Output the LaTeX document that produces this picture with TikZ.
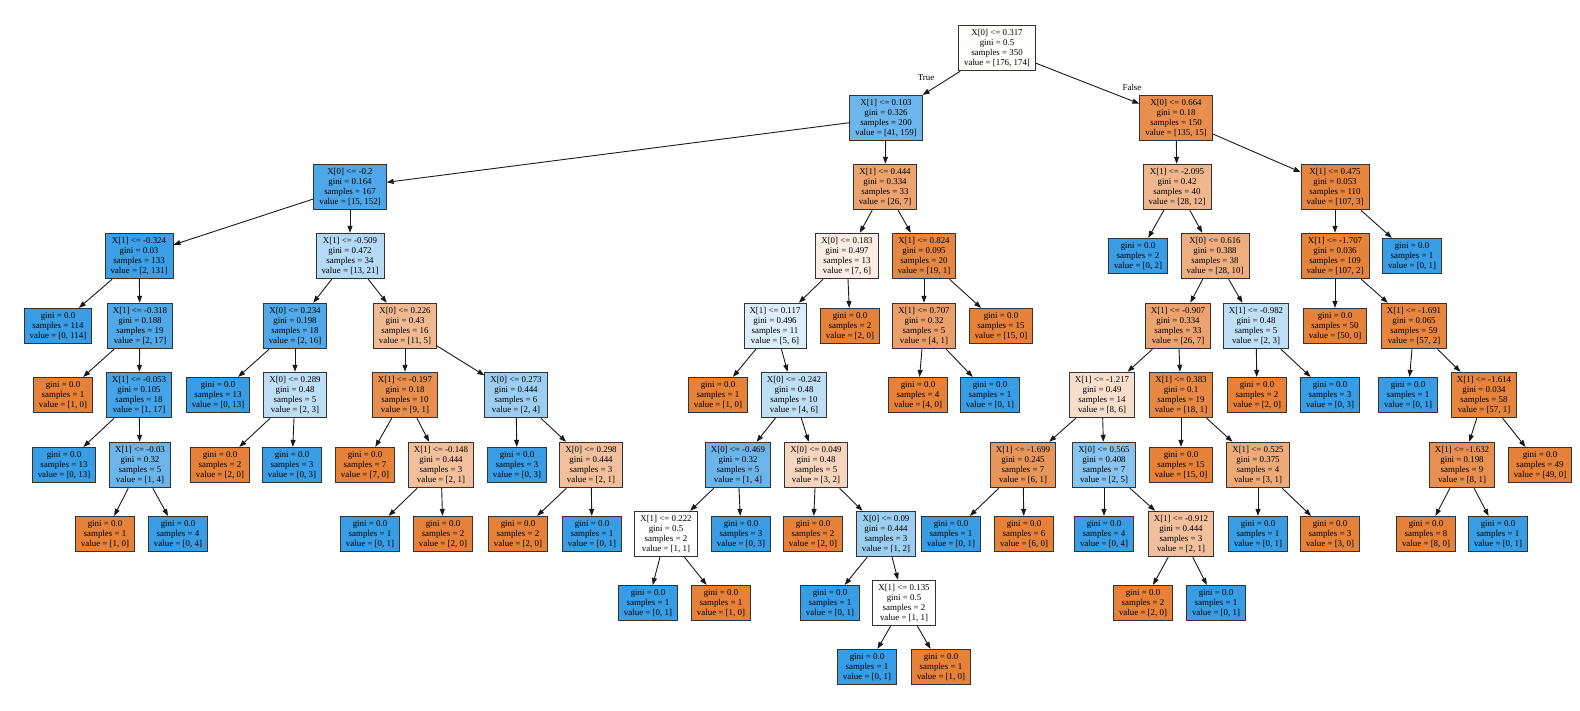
\documentclass[tikz,border=0pt]{standalone}
\usepackage{fontspec}
\setmainfont{Liberation Serif}
\usetikzlibrary{arrows.meta}
\definecolor{orng}{RGB}{229,129,57}
\definecolor{blu}{RGB}{57,157,229}

\begin{document}
\begin{tikzpicture}[x=1pt, y=-1pt]
	\tikzstyle{splitbox} = [rectangle, draw=black!80, line width=0.9pt, align=center, font=\fontsize{8.9}{10}\selectfont, inner xsep=5.5pt, inner ysep=4pt]
	\tikzstyle{leafbox} = [splitbox]
	\tikzstyle{branch} = [-{Triangle[length=7pt, width=5pt]}, line width=0.9pt, black!90]
	\tikzstyle{edgelab} = [font=\fontsize{8.9}{10}\selectfont, inner sep=0pt]
	\useasboundingbox (0,0) rectangle (1580,710);

	% rank 0
	\node[splitbox, fill=orng!1] at (997,48) (root) {X[0] <= 0.317\\gini = 0.5\\samples = 350\\value = [176, 174]};

	% rank 1
	\node[splitbox, fill=blu!74] at (886,118) (nL) {X[1] <= 0.103\\gini = 0.326\\samples = 200\\value = [41, 159]};
	\node[splitbox, fill=orng!89] at (1176,118) (nR) {X[0] <= 0.664\\gini = 0.18\\samples = 150\\value = [135, 15]};

	% rank 2
	\node[splitbox, fill=blu!90] at (350,187) (nLL) {X[0] <= -0.2\\gini = 0.164\\samples = 167\\value = [15, 152]};
	\node[splitbox, fill=orng!73] at (885,187) (nLR) {X[1] <= 0.444\\gini = 0.334\\samples = 33\\value = [26, 7]};
	\node[splitbox, fill=orng!57] at (1177,187) (nRL) {X[1] <= -2.095\\gini = 0.42\\samples = 40\\value = [28, 12]};
	\node[splitbox, fill=orng!97] at (1335,187) (nRR) {X[1] <= 0.475\\gini = 0.053\\samples = 110\\value = [107, 3]};

	% rank 3
	\node[splitbox, fill=blu!98] at (139,256) (nLLL) {X[1] <= -0.324\\gini = 0.03\\samples = 133\\value = [2, 131]};
	\node[splitbox, fill=blu!38] at (350,256) (nLLR) {X[1] <= -0.509\\gini = 0.472\\samples = 34\\value = [13, 21]};
	\node[splitbox, fill=orng!14] at (847,256) (nLRL) {X[0] <= 0.183\\gini = 0.497\\samples = 13\\value = [7, 6]};
	\node[splitbox, fill=orng!95] at (924,256) (nLRR) {X[1] <= 0.824\\gini = 0.095\\samples = 20\\value = [19, 1]};
	\node[leafbox, fill=blu] at (1138,256) (nRLL) {gini = 0.0\\samples = 2\\value = [0, 2]};
	\node[splitbox, fill=orng!64] at (1215,256) (nRLR) {X[0] <= 0.616\\gini = 0.388\\samples = 38\\value = [28, 10]};
	\node[splitbox, fill=orng!98] at (1335,256) (nRRL) {X[1] <= -1.707\\gini = 0.036\\samples = 109\\value = [107, 2]};
	\node[leafbox, fill=blu] at (1412,256) (nRRR) {gini = 0.0\\samples = 1\\value = [0, 1]};

	% rank 4
	\node[leafbox, fill=blu] at (58,326) (nLLLL) {gini = 0.0\\samples = 114\\value = [0, 114]};
	\node[splitbox, fill=blu!88] at (140,326) (nLLLR) {X[1] <= -0.318\\gini = 0.188\\samples = 19\\value = [2, 17]};
	\node[splitbox, fill=blu!88] at (295,326) (nLLRL) {X[0] <= 0.234\\gini = 0.198\\samples = 18\\value = [2, 16]};
	\node[splitbox, fill=orng!55] at (405,326) (nLLRR) {X[0] <= 0.226\\gini = 0.43\\samples = 16\\value = [11, 5]};
	\node[splitbox, fill=blu!17] at (775,326) (nLRLL) {X[1] <= 0.117\\gini = 0.496\\samples = 11\\value = [5, 6]};
	\node[leafbox, fill=orng] at (850,326) (nLRLR) {gini = 0.0\\samples = 2\\value = [2, 0]};
	\node[splitbox, fill=orng!75] at (924,326) (nLRRL) {X[1] <= 0.707\\gini = 0.32\\samples = 5\\value = [4, 1]};
	\node[leafbox, fill=orng] at (1001,326) (nLRRR) {gini = 0.0\\samples = 15\\value = [15, 0]};
	\node[splitbox, fill=orng!73] at (1178,326) (nRLRL) {X[1] <= -0.907\\gini = 0.334\\samples = 33\\value = [26, 7]};
	\node[splitbox, fill=blu!33] at (1256,326) (nRLRR) {X[1] <= -0.982\\gini = 0.48\\samples = 5\\value = [2, 3]};
	\node[leafbox, fill=orng] at (1335,326) (nRRLL) {gini = 0.0\\samples = 50\\value = [50, 0]};
	\node[splitbox, fill=orng!96] at (1414,326) (nRRLR) {X[1] <= -1.691\\gini = 0.065\\samples = 59\\value = [57, 2]};

	% rank 5
	\node[leafbox, fill=orng] at (63,395) (nLLLRL) {gini = 0.0\\samples = 1\\value = [1, 0]};
	\node[splitbox, fill=blu!94] at (139,395) (nLLLRR) {X[1] <= -0.053\\gini = 0.105\\samples = 18\\value = [1, 17]};
	\node[leafbox, fill=blu] at (218,395) (nLLRLL) {gini = 0.0\\samples = 13\\value = [0, 13]};
	\node[splitbox, fill=blu!33] at (295,395) (nLLRLR) {X[0] <= 0.289\\gini = 0.48\\samples = 5\\value = [2, 3]};
	\node[splitbox, fill=orng!89] at (405,395) (nLLRRL) {X[1] <= -0.197\\gini = 0.18\\samples = 10\\value = [9, 1]};
	\node[splitbox, fill=blu!50] at (516,395) (nLLRRR) {X[0] <= 0.273\\gini = 0.444\\samples = 6\\value = [2, 4]};
	\node[leafbox, fill=orng] at (718,395) (nLRLLL) {gini = 0.0\\samples = 1\\value = [1, 0]};
	\node[splitbox, fill=blu!33] at (794,395) (nLRLLR) {X[0] <= -0.242\\gini = 0.48\\samples = 10\\value = [4, 6]};
	\node[leafbox, fill=orng] at (918,395) (nLRRLL) {gini = 0.0\\samples = 4\\value = [4, 0]};
	\node[leafbox, fill=blu] at (990,395) (nLRRLR) {gini = 0.0\\samples = 1\\value = [0, 1]};
	\node[splitbox, fill=orng!25] at (1102,395) (nRLRLL) {X[1] <= -1.217\\gini = 0.49\\samples = 14\\value = [8, 6]};
	\node[splitbox, fill=orng!94] at (1181,395) (nRLRLR) {X[1] <= 0.383\\gini = 0.1\\samples = 19\\value = [18, 1]};
	\node[leafbox, fill=orng] at (1257,395) (nRLRRL) {gini = 0.0\\samples = 2\\value = [2, 0]};
	\node[leafbox, fill=blu] at (1330,395) (nRLRRR) {gini = 0.0\\samples = 3\\value = [0, 3]};
	\node[leafbox, fill=blu] at (1408,395) (nRRLRL) {gini = 0.0\\samples = 1\\value = [0, 1]};
	\node[splitbox, fill=orng!98] at (1484,395) (nRRLRR) {X[1] <= -1.614\\gini = 0.034\\samples = 58\\value = [57, 1]};

	% rank 6
	\node[leafbox, fill=blu] at (64,465) (nLLLRRL) {gini = 0.0\\samples = 13\\value = [0, 13]};
	\node[splitbox, fill=blu!75] at (140,465) (nLLLRRR) {X[1] <= -0.03\\gini = 0.32\\samples = 5\\value = [1, 4]};
	\node[leafbox, fill=orng] at (220,465) (nLLRLRL) {gini = 0.0\\samples = 2\\value = [2, 0]};
	\node[leafbox, fill=blu] at (292,465) (nLLRLRR) {gini = 0.0\\samples = 3\\value = [0, 3]};
	\node[leafbox, fill=orng] at (365,465) (nLLRRLL) {gini = 0.0\\samples = 7\\value = [7, 0]};
	\node[splitbox, fill=orng!50] at (441,465) (nLLRRLR) {X[1] <= -0.148\\gini = 0.444\\samples = 3\\value = [2, 1]};
	\node[leafbox, fill=blu] at (517,465) (nLLRRRL) {gini = 0.0\\samples = 3\\value = [0, 3]};
	\node[splitbox, fill=orng!50] at (591,465) (nLLRRRR) {X[0] <= 0.298\\gini = 0.444\\samples = 3\\value = [2, 1]};
	\node[splitbox, fill=blu!75] at (738,465) (nLRLLRL) {X[0] <= -0.469\\gini = 0.32\\samples = 5\\value = [1, 4]};
	\node[splitbox, fill=orng!33] at (816,465) (nLRLLRR) {X[0] <= 0.049\\gini = 0.48\\samples = 5\\value = [3, 2]};
	\node[splitbox, fill=orng!83] at (1023,465) (nRLRLLL) {X[1] <= -1.699\\gini = 0.245\\samples = 7\\value = [6, 1]};
	\node[splitbox, fill=blu!60] at (1104,465) (nRLRLLR) {X[0] <= 0.565\\gini = 0.408\\samples = 7\\value = [2, 5]};
	\node[leafbox, fill=orng] at (1181,465) (nRLRLRL) {gini = 0.0\\samples = 15\\value = [15, 0]};
	\node[splitbox, fill=orng!67] at (1258,465) (nRLRLRR) {X[1] <= 0.525\\gini = 0.375\\samples = 4\\value = [3, 1]};
	\node[splitbox, fill=orng!88] at (1462,465) (nRRLRRL) {X[1] <= -1.632\\gini = 0.198\\samples = 9\\value = [8, 1]};
	\node[leafbox, fill=orng] at (1540,465) (nRRLRRR) {gini = 0.0\\samples = 49\\value = [49, 0]};

	% rank 7
	\node[leafbox, fill=orng] at (105,534) (nLLLRRRL) {gini = 0.0\\samples = 1\\value = [1, 0]};
	\node[leafbox, fill=blu] at (178,534) (nLLLRRRR) {gini = 0.0\\samples = 4\\value = [0, 4]};
	\node[leafbox, fill=blu] at (370,534) (nLLRRLRL) {gini = 0.0\\samples = 1\\value = [0, 1]};
	\node[leafbox, fill=orng] at (443,534) (nLLRRLRR) {gini = 0.0\\samples = 2\\value = [2, 0]};
	\node[leafbox, fill=orng] at (518,534) (nLLRRRRL) {gini = 0.0\\samples = 2\\value = [2, 0]};
	\node[leafbox, fill=blu] at (592,534) (nLLRRRRR) {gini = 0.0\\samples = 1\\value = [0, 1]};
	\node[splitbox, fill=white] at (666,534) (nLRLLRLL) {X[1] <= 0.222\\gini = 0.5\\samples = 2\\value = [1, 1]};
	\node[leafbox, fill=blu] at (741,534) (nLRLLRLR) {gini = 0.0\\samples = 3\\value = [0, 3]};
	\node[leafbox, fill=orng] at (813,534) (nLRLLRRL) {gini = 0.0\\samples = 2\\value = [2, 0]};
	\node[splitbox, fill=blu!50] at (886,534) (nLRLLRRR) {X[0] <= 0.09\\gini = 0.444\\samples = 3\\value = [1, 2]};
	\node[leafbox, fill=blu] at (951,534) (nRLRLLLL) {gini = 0.0\\samples = 1\\value = [0, 1]};
	\node[leafbox, fill=orng] at (1024,534) (nRLRLLLR) {gini = 0.0\\samples = 6\\value = [6, 0]};
	\node[leafbox, fill=blu] at (1104,534) (nRLRLLRL) {gini = 0.0\\samples = 4\\value = [0, 4]};
	\node[splitbox, fill=orng!50] at (1181,534) (nRLRLLRR) {X[1] <= -0.912\\gini = 0.444\\samples = 3\\value = [2, 1]};
	\node[leafbox, fill=blu] at (1258,534) (nRLRLRRL) {gini = 0.0\\samples = 1\\value = [0, 1]};
	\node[leafbox, fill=orng] at (1330,534) (nRLRLRRR) {gini = 0.0\\samples = 3\\value = [3, 0]};
	\node[leafbox, fill=orng] at (1426,534) (nRRLRRLL) {gini = 0.0\\samples = 8\\value = [8, 0]};
	\node[leafbox, fill=blu] at (1498,534) (nRRLRRLR) {gini = 0.0\\samples = 1\\value = [0, 1]};

	% rank 8
	\node[leafbox, fill=blu] at (648,603) (nLRLLRLLL) {gini = 0.0\\samples = 1\\value = [0, 1]};
	\node[leafbox, fill=orng] at (721,603) (nLRLLRLLR) {gini = 0.0\\samples = 1\\value = [1, 0]};
	\node[leafbox, fill=blu] at (830,603) (nLRLLRRRL) {gini = 0.0\\samples = 1\\value = [0, 1]};
	\node[splitbox, fill=white] at (904,603) (nLRLLRRRR) {X[1] <= 0.135\\gini = 0.5\\samples = 2\\value = [1, 1]};
	\node[leafbox, fill=orng] at (1143,603) (nRLRLLRRL) {gini = 0.0\\samples = 2\\value = [2, 0]};
	\node[leafbox, fill=blu] at (1216,603) (nRLRLLRRR) {gini = 0.0\\samples = 1\\value = [0, 1]};

	% rank 9
	\node[leafbox, fill=blu] at (867,667) (nLRLLRRRRL) {gini = 0.0\\samples = 1\\value = [0, 1]};
	\node[leafbox, fill=orng] at (941,667) (nLRLLRRRRR) {gini = 0.0\\samples = 1\\value = [1, 0]};

	% edge labels
	\node[edgelab] at (926,78) (truelab) {True};
	\node[edgelab] at (1132,87) (falselab) {False};

	% branches
	\draw[branch] (root) -- (nL);  \draw[branch] (root) -- (nR);
	\draw[branch] (nL) -- (nLL);  \draw[branch] (nL) -- (nLR);
	\draw[branch] (nR) -- (nRL);  \draw[branch] (nR) -- (nRR);

	\draw[branch] (nLL) -- (nLLL);  \draw[branch] (nLL) -- (nLLR);
	\draw[branch] (nLR) -- (nLRL);  \draw[branch] (nLR) -- (nLRR);
	\draw[branch] (nRL) -- (nRLL);  \draw[branch] (nRL) -- (nRLR);
	\draw[branch] (nRR) -- (nRRL);  \draw[branch] (nRR) -- (nRRR);

	\draw[branch] (nLLL) -- (nLLLL);  \draw[branch] (nLLL) -- (nLLLR);
	\draw[branch] (nLLR) -- (nLLRL);  \draw[branch] (nLLR) -- (nLLRR);
	\draw[branch] (nLRL) -- (nLRLL);  \draw[branch] (nLRL) -- (nLRLR);
	\draw[branch] (nLRR) -- (nLRRL);  \draw[branch] (nLRR) -- (nLRRR);
	\draw[branch] (nRLR) -- (nRLRL);  \draw[branch] (nRLR) -- (nRLRR);
	\draw[branch] (nRRL) -- (nRRLL);  \draw[branch] (nRRL) -- (nRRLR);

	\draw[branch] (nLLLR) -- (nLLLRL);  \draw[branch] (nLLLR) -- (nLLLRR);
	\draw[branch] (nLLRL) -- (nLLRLL);  \draw[branch] (nLLRL) -- (nLLRLR);
	\draw[branch] (nLLRR) -- (nLLRRL);  \draw[branch] (nLLRR) -- (nLLRRR);
	\draw[branch] (nLRLL) -- (nLRLLL);  \draw[branch] (nLRLL) -- (nLRLLR);
	\draw[branch] (nLRRL) -- (nLRRLL);  \draw[branch] (nLRRL) -- (nLRRLR);
	\draw[branch] (nRLRL) -- (nRLRLL);  \draw[branch] (nRLRL) -- (nRLRLR);
	\draw[branch] (nRLRR) -- (nRLRRL);  \draw[branch] (nRLRR) -- (nRLRRR);
	\draw[branch] (nRRLR) -- (nRRLRL);  \draw[branch] (nRRLR) -- (nRRLRR);

	\draw[branch] (nLLLRR) -- (nLLLRRL);  \draw[branch] (nLLLRR) -- (nLLLRRR);
	\draw[branch] (nLLRLR) -- (nLLRLRL);  \draw[branch] (nLLRLR) -- (nLLRLRR);
	\draw[branch] (nLLRRL) -- (nLLRRLL);  \draw[branch] (nLLRRL) -- (nLLRRLR);
	\draw[branch] (nLLRRR) -- (nLLRRRL);  \draw[branch] (nLLRRR) -- (nLLRRRR);
	\draw[branch] (nLRLLR) -- (nLRLLRL);  \draw[branch] (nLRLLR) -- (nLRLLRR);
	\draw[branch] (nRLRLL) -- (nRLRLLL);  \draw[branch] (nRLRLL) -- (nRLRLLR);
	\draw[branch] (nRLRLR) -- (nRLRLRL);  \draw[branch] (nRLRLR) -- (nRLRLRR);
	\draw[branch] (nRRLRR) -- (nRRLRRL);  \draw[branch] (nRRLRR) -- (nRRLRRR);

	\draw[branch] (nLLLRRR) -- (nLLLRRRL);  \draw[branch] (nLLLRRR) -- (nLLLRRRR);
	\draw[branch] (nLLRRLR) -- (nLLRRLRL);  \draw[branch] (nLLRRLR) -- (nLLRRLRR);
	\draw[branch] (nLLRRRR) -- (nLLRRRRL);  \draw[branch] (nLLRRRR) -- (nLLRRRRR);
	\draw[branch] (nLRLLRL) -- (nLRLLRLL);  \draw[branch] (nLRLLRL) -- (nLRLLRLR);
	\draw[branch] (nLRLLRR) -- (nLRLLRRL);  \draw[branch] (nLRLLRR) -- (nLRLLRRR);
	\draw[branch] (nRLRLLL) -- (nRLRLLLL);  \draw[branch] (nRLRLLL) -- (nRLRLLLR);
	\draw[branch] (nRLRLLR) -- (nRLRLLRL);  \draw[branch] (nRLRLLR) -- (nRLRLLRR);
	\draw[branch] (nRLRLRR) -- (nRLRLRRL);  \draw[branch] (nRLRLRR) -- (nRLRLRRR);
	\draw[branch] (nRRLRRL) -- (nRRLRRLL);  \draw[branch] (nRRLRRL) -- (nRRLRRLR);

	\draw[branch] (nLRLLRLL) -- (nLRLLRLLL);  \draw[branch] (nLRLLRLL) -- (nLRLLRLLR);
	\draw[branch] (nLRLLRRR) -- (nLRLLRRRL);  \draw[branch] (nLRLLRRR) -- (nLRLLRRRR);
	\draw[branch] (nRLRLLRR) -- (nRLRLLRRL);  \draw[branch] (nRLRLLRR) -- (nRLRLLRRR);

	\draw[branch] (nLRLLRRRR) -- (nLRLLRRRRL);  \draw[branch] (nLRLLRRRR) -- (nLRLLRRRRR);
\end{tikzpicture}
\end{document}
